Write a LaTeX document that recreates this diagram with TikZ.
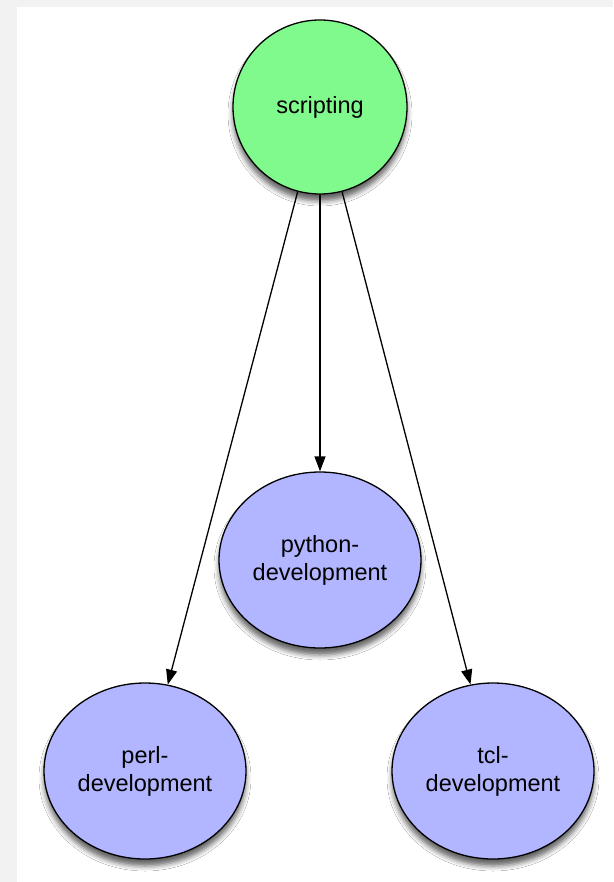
\documentclass[tikz,border=0pt]{standalone}
\usepackage{fontspec}
\setmainfont{Liberation Sans}
\usetikzlibrary{shapes.geometric,shadows.blur,arrows.meta}
\definecolor{topicgreen}{RGB}{128,250,140}
\definecolor{subblue}{RGB}{178,181,255}
\definecolor{stripgray}{RGB}{242,242,242}
\begin{document}
\begin{tikzpicture}[
    x=1pt, y=-1pt,
    topic/.style={circle, draw, line width=1.3pt, fill=topicgreen, minimum size=174pt, inner sep=0pt, align=center, font=\fontsize{23.5}{28}\selectfont,
        blur shadow={shadow xshift=0pt, shadow yshift=-7pt, shadow blur radius=5pt, shadow opacity=60}},
    sub/.style={ellipse, draw, line width=1.3pt, fill=subblue, minimum width=202pt, minimum height=176pt, inner sep=0pt, align=center, font=\fontsize{23.5}{28}\selectfont,
        blur shadow={shadow xshift=0pt, shadow yshift=-7pt, shadow blur radius=5pt, shadow opacity=60}},
    link/.style={draw, line width=1.3pt, -{Triangle[length=15pt, width=11pt]}}
]
\useasboundingbox (0,0) rectangle (613,882);
\fill[stripgray] (0,0) rectangle (613,882);
\fill[white] (17,7) rectangle (613,882);
% nodes
\node[topic] (scripting) at (320,107) {scripting};
\node[sub] (python) at (320,560) {python-\\development};
\node[sub] (perl) at (145,771) {perl-\\development};
\node[sub] (tcl) at (493,771) {tcl-\\development};
% links
\draw[link] (scripting) -- (perl);
\draw[link] (scripting) -- (python);
\draw[link] (scripting) -- (tcl);
\end{tikzpicture}
\end{document}
